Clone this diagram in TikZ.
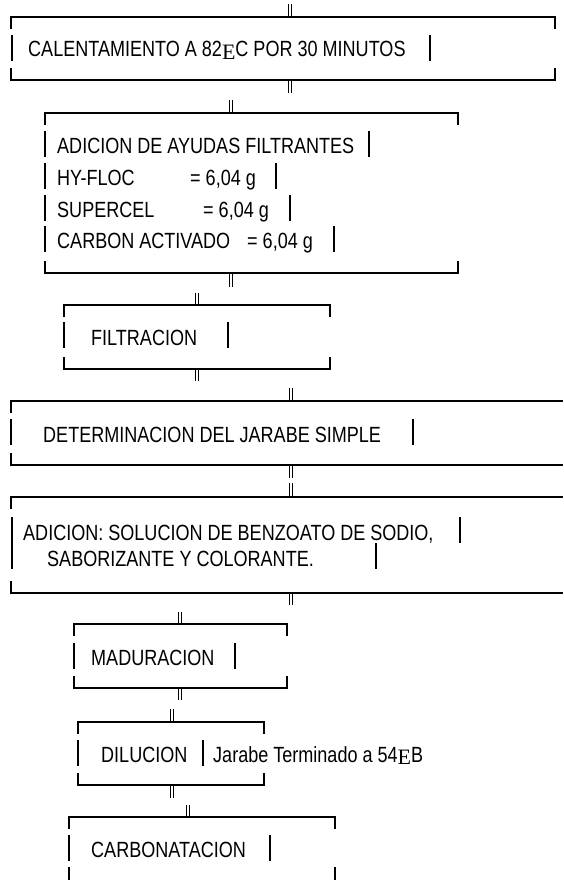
\documentclass[tikz,border=0pt]{standalone}
\usepackage{fontspec}
\setmainfont{Liberation Sans}[FakeStretch=0.82]
\newfontfamily\degfont{Liberation Serif}
\newcommand{\degE}{\raisebox{-2.5pt}{\degfont E}}
\tikzset{
  rule/.style={line width=1.2pt},
  vbar/.style={line width=1.2pt},
  dmk/.style={line width=0.9pt},
  txt/.style={anchor=base west, inner sep=0pt, font=\fontsize{22}{26}\selectfont},
}
% full frame: left right top bottom
\newcommand{\pframe}[4]{%
  \draw[rule] (#1,#3+12) -- (#1,#3) -- (#2,#3) -- (#2,#3+12);
  \draw[rule] (#1,#4-12) -- (#1,#4) -- (#2,#4) -- (#2,#4-12);
}
% frame running to the right edge: left top bottom
\newcommand{\wframe}[3]{%
  \draw[rule] (#1,#2+12) -- (#1,#2) -- (563,#2);
  \draw[rule] (#1,#3-12) -- (#1,#3) -- (563,#3);
}
% double mark: x ytop ybottom
\newcommand{\dmark}[3]{%
  \draw[dmk] (#1-1.4,#2) -- (#1-1.4,#3) (#1+1.4,#2) -- (#1+1.4,#3);
}
% bar: x centre-y
\newcommand{\vb}[2]{\draw[vbar] (#1,#2-14) -- (#1,#2+12);}
\begin{document}
\begin{tikzpicture}[x=1pt,y=-1pt]
\useasboundingbox (0,0) rectangle (563,880);

% box 1
\dmark{290}{4}{17}
\pframe{11}{555}{17}{80}
\node[txt] (t1) at (28,57) {CALENTAMIENTO A 82\degE C POR 30 MINUTOS};
\vb{12}{49}\vb{430}{49}
\dmark{290}{80}{93}

% box 2
\dmark{231}{100}{113}
\pframe{45}{458}{113}{273}
\node[txt] (t2a) at (57,153) {ADICION DE AYUDAS FILTRANTES};
\node[txt] (t2b) at (57,185) {HY-FLOC};
\node[txt] (t2bv) at (190,185) {= 6,04 g};
\node[txt] (t2c) at (57,217) {SUPERCEL};
\node[txt] (t2cv) at (203,217) {= 6,04 g};
\node[txt] (t2d) at (57,248) {CARBON ACTIVADO};
\node[txt] (t2dv) at (247,248) {= 6,04 g};
\vb{45}{145}\vb{369}{145}
\vb{45}{177}\vb{276}{177}
\vb{45}{209}\vb{290}{209}
\vb{45}{240}\vb{334}{240}
\dmark{231}{273}{287}

% box 3
\dmark{197}{293}{305}
\pframe{64}{330}{305}{369}
\node[txt] (t3) at (91,345) {FILTRACION};
\vb{64}{336}\vb{228}{336}
\dmark{197}{369}{381}

% box 4
\dmark{291}{388}{401}
\wframe{11}{401}{465}
\node[txt] (t4) at (43,442) {DETERMINACION DEL JARABE SIMPLE};
\vb{11}{433}\vb{413}{433}
\dmark{291}{465}{478}

% box 5
\dmark{291}{483}{497}
\wframe{11}{497}{593}
\node[txt] (t5a) at (23,540) {ADICION: SOLUCION DE BENZOATO DE SODIO,};
\node[txt] (t5b) at (47,566) {SABORIZANTE Y COLORANTE.};
\vb{12}{531}\vb{460}{531}
\vb{12}{557}\vb{376}{557}
\dmark{291}{593}{605}

% box 6
\dmark{180}{612}{624}
\pframe{74}{287}{624}{688}
\node[txt] (t6) at (91,665) {MADURACION};
\vb{74}{657}\vb{235}{657}
\dmark{180}{688}{700}

% box 7
\dmark{172}{709}{722}
\pframe{78}{264}{722}{785}
\node[txt] (t7) at (101,762) {DILUCION};
\node[txt] (t7b) at (213,762) {Jarabe Terminado a 54\degE B};
\vb{78}{754}\vb{203}{754}
\dmark{172}{785}{798}

% box 8
\dmark{188}{805}{817}
\draw[rule] (69,829) -- (69,817) -- (335,817) -- (335,829);
\node[txt] (t8) at (91,857) {CARBONATACION};
\vb{69}{849}\vb{270}{849}
\draw[rule] (69,867) -- (69,880);
\draw[rule] (335,867) -- (335,880);
\end{tikzpicture}
\end{document}
